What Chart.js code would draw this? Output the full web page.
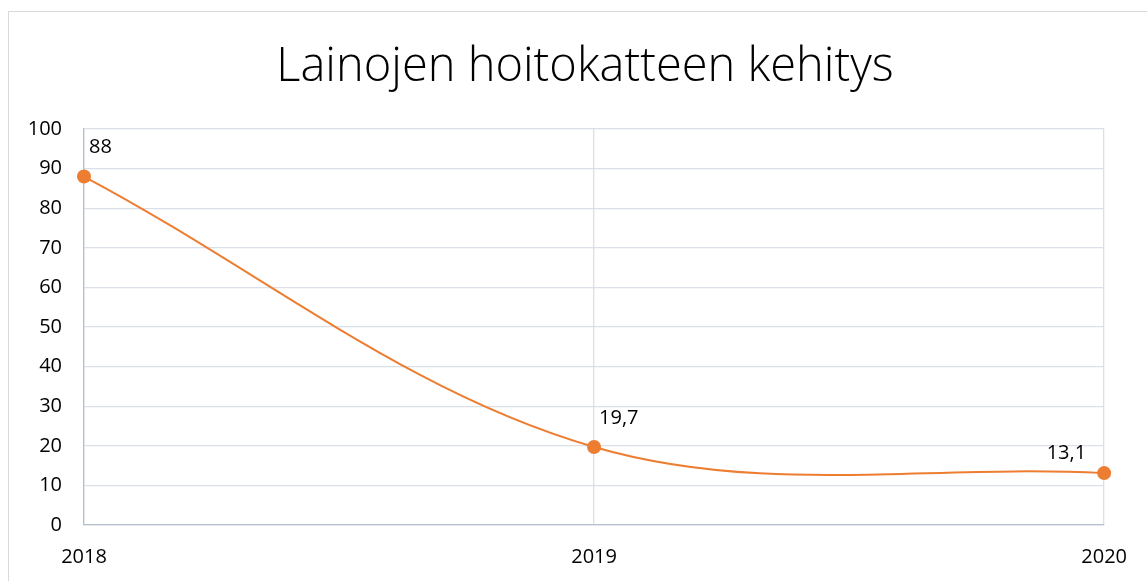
<!DOCTYPE html>
<html>
<head>
<meta charset="utf-8">
<script src="https://cdn.jsdelivr.net/npm/chart.js@4/dist/chart.umd.min.js"></script>
<style>
  html, body { margin: 0; padding: 0; background: #fff; }
  #wrap { width: 1147px; height: 581px; position: relative; }
</style>
</head>
<body>
<div id="wrap"><canvas id="chart"></canvas></div>
<script>
const years = ["2018", "2019", "2020"];
const coverage = [88, 19.7, 13.1];
const yTicks = [0, 10, 20, 30, 40, 50, 60, 70, 80, 90, 100];
const chartTitle = "Lainojen hoitokatteen kehitys";

const orange = "#ED7D31";
const fontFamily = "'Open Sans', 'Liberation Sans', sans-serif";

// outer frame and the title, drawn over the whole box width
const framePlugin = {
  id: "frame",
  beforeDraw(chart) {
    const ctx = chart.ctx;
    ctx.save();
    ctx.strokeStyle = "#d9d9d9";
    ctx.lineWidth = 1;
    ctx.strokeRect(8.5, 11.5, chart.width + 10, chart.height + 10);
    ctx.fillStyle = "#000";
    ctx.font = "300 47px " + fontFamily;
    ctx.textAlign = "center";
    ctx.textBaseline = "middle";
    ctx.fillText(chartTitle, 585, 68);
    ctx.restore();
  }
};

// value labels next to the points
const labelPlugin = {
  id: "valueLabels",
  afterDatasetsDraw(chart) {
    const ctx = chart.ctx;
    const meta = chart.getDatasetMeta(0);
    ctx.save();
    ctx.font = "20px " + fontFamily;
    ctx.fillStyle = "#000";
    ctx.textBaseline = "middle";
    meta.data.forEach((pt, i) => {
      const txt = String(coverage[i]).replace(".", ",");
      if (i === meta.data.length - 1) {
        ctx.textAlign = "right";
        ctx.fillText(txt, pt.x - 18, pt.y - 20);
      } else {
        ctx.textAlign = "left";
        ctx.fillText(txt, pt.x + 5, pt.y - 29);
      }
    });
    ctx.restore();
  }
};

new Chart(document.getElementById("chart"), {
  type: "line",
  data: {
    labels: years,
    datasets: [{
      label: "Lainojen hoitokate",
      data: coverage,
      borderColor: orange,
      backgroundColor: orange,
      borderWidth: 2,
      tension: 0.35,
      pointRadius: 7,
      pointHoverRadius: 7,
      pointBorderWidth: 0
    }]
  },
  options: {
    responsive: true,
    maintainAspectRatio: false,
    animation: false,
    layout: { padding: { left: 0, right: 41, top: 129, bottom: 0 } },
    plugins: {
      legend: { display: false },
      tooltip: { enabled: false },
      title: { display: false }
    },
    scales: {
      x: {
        offset: false,
        grid: { color: "#dbdfe7", lineWidth: 1.3, drawTicks: false },
        border: { color: "#b4bfd0", width: 1.3 },
        ticks: { color: "#000", font: { family: fontFamily, size: 20 }, padding: 20, maxRotation: 0 },
        afterFit(scale) { scale.height = 56; }
      },
      y: {
        min: 0,
        max: 100,
        afterBuildTicks(scale) { scale.ticks = yTicks.map(v => ({ value: v })); },
        grid: { color: "#dbdfe7", lineWidth: 1.3, drawTicks: false },
        border: { color: "#b4bfd0", width: 1.3 },
        ticks: { color: "#000", font: { family: fontFamily, size: 20 }, padding: 22 },
        afterFit(scale) { scale.width = 84; }
      }
    }
  },
  plugins: [framePlugin, labelPlugin]
});
</script>
</body>
</html>
